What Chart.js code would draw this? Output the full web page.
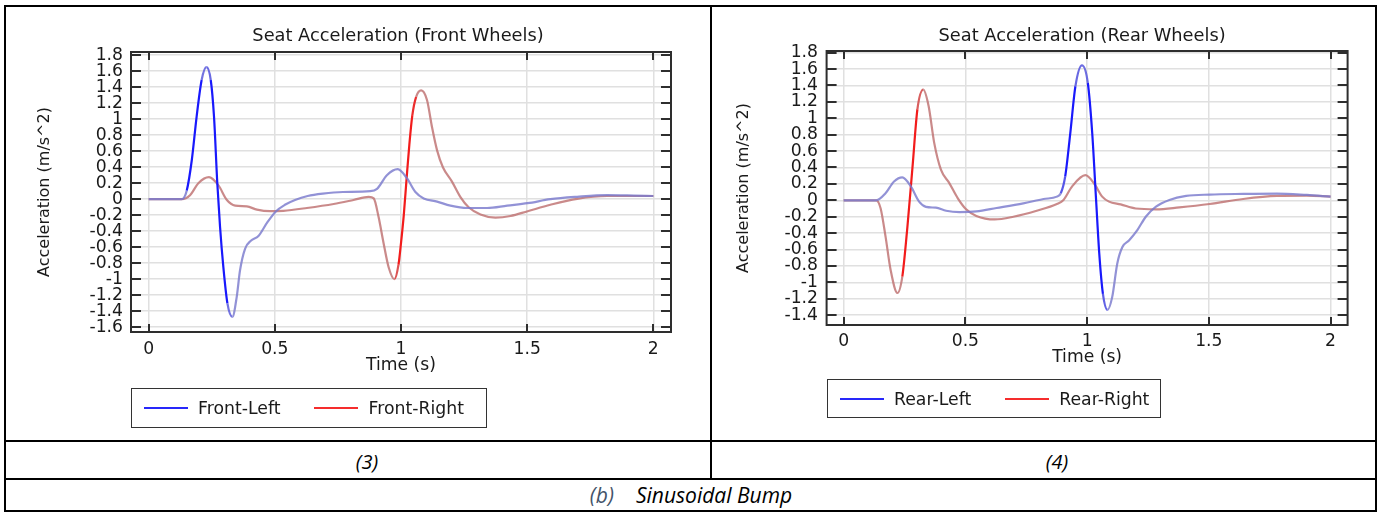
<!DOCTYPE html>
<html>
<head>
<meta charset="utf-8">
<script src="https://cdn.jsdelivr.net/npm/chart.js@4"></script>
<style>
body { margin:0; background:#fff; width:1381px; height:513px; position:relative; overflow:hidden; font-family:"DejaVu Sans", sans-serif; }
.rule { position:absolute; background:#000; }
canvas { position:absolute; top:0; }
.legend { position:absolute; border:1.5px solid #333; box-sizing:border-box; display:flex; align-items:center; padding-left:12px; font-size:17.3px; color:#1a1a1a; white-space:nowrap; }
.legend .item { display:flex; align-items:center; margin-right:34px; flex-shrink:0; }
.legend .key { display:inline-block; width:44px; height:0; border-top:2px solid; margin-right:10px; }
.caption { position:absolute; font-family:"Open Sans", sans-serif; font-style:italic; font-size:20px; line-height:24px; transform:translateX(-50%); white-space:nowrap; color:#000; }
</style>
</head>
<body>
<canvas id="frontChart" width="710" height="440" style="left:0"></canvas>
<canvas id="rearChart" width="671" height="440" style="left:710px"></canvas>
<div id="frontLegend" class="legend" style="left:131px; top:388px; width:356px; height:40px"></div>
<div id="rearLegend" class="legend" style="left:827px; top:379px; width:334px; height:39px"></div>

<!-- table rules -->
<div class="rule" style="left:4px; top:5px; width:1373px; height:2px"></div>
<div class="rule" style="left:4px; top:440px; width:1373px; height:2px"></div>
<div class="rule" style="left:4px; top:478px; width:1373px; height:2px"></div>
<div class="rule" style="left:4px; top:510px; width:1373px; height:2px"></div>
<div class="rule" style="left:4px; top:5px; width:2px; height:507px"></div>
<div class="rule" style="left:1375px; top:5px; width:2px; height:507px"></div>
<div class="rule" style="left:710px; top:5px; width:2px; height:474px"></div>

<div class="caption" style="left:367px; top:450px">(3)</div>
<div class="caption" style="left:1057px; top:450px">(4)</div>
<div class="caption" style="left:691px; top:483px; font-size:21px"><span style="color:#44546a">(b)</span><span style="margin-left:22px">Sinusoidal Bump</span></div>

<script>
// Front wheels, time (s) and seat acceleration (m/s^2)
var timeFL = [0, 0.05, 0.10, 0.131, 0.151, 0.171, 0.19, 0.21, 0.229, 0.246, 0.259, 0.272, 0.283, 0.296, 0.312, 0.332, 0.349, 0.362, 0.382, 0.405, 0.435, 0.47, 0.505, 0.54, 0.58, 0.63, 0.69, 0.77, 0.878, 0.905, 0.944, 0.987, 1.024, 1.057, 1.09, 1.143, 1.196, 1.262, 1.341, 1.421, 1.502, 1.592, 1.698, 1.817, 1.923, 2.0];
var accFL  = [0, 0, 0, 0, 0.11, 0.49, 1.03, 1.49, 1.65, 1.49, 1.03, 0.2, -0.35, -0.85, -1.30, -1.47, -1.22, -0.89, -0.62, -0.52, -0.46, -0.29, -0.15, -0.07, -0.01, 0.04, 0.07, 0.09, 0.10, 0.13, 0.30, 0.375, 0.26, 0.09, 0.01, -0.03, -0.08, -0.11, -0.11, -0.08, -0.05, 0.0, 0.03, 0.05, 0.045, 0.04];

var timeFR = [0, 0.05, 0.10, 0.131, 0.164, 0.197, 0.239, 0.276, 0.31, 0.343, 0.389, 0.429, 0.481, 0.534, 0.627, 0.733, 0.812, 0.872, 0.892, 0.911, 0.931, 0.951, 0.974, 0.99, 1.0, 1.011, 1.022, 1.033, 1.045, 1.06, 1.08, 1.103, 1.123, 1.143, 1.166, 1.202, 1.235, 1.268, 1.315, 1.374, 1.434, 1.502, 1.592, 1.698, 1.817, 1.923, 2.0];
var accFR  = [0, 0, 0, 0, 0.05, 0.2, 0.275, 0.175, -0.01, -0.08, -0.09, -0.13, -0.15, -0.145, -0.11, -0.06, -0.01, 0.03, 0.01, -0.22, -0.55, -0.85, -1.0, -0.82, -0.55, -0.2, 0.25, 0.68, 1.05, 1.28, 1.36, 1.24, 0.90, 0.61, 0.40, 0.22, 0.03, -0.10, -0.19, -0.23, -0.21, -0.15, -0.07, 0.005, 0.04, 0.04, 0.04];

// Rear wheels
var timeRL = [0, 0.05, 0.10, 0.134, 0.172, 0.207, 0.241, 0.276, 0.31, 0.338, 0.379, 0.421, 0.476, 0.545, 0.628, 0.738, 0.821, 0.876, 0.892, 0.91, 0.931, 0.952, 0.979, 1.003, 1.021, 1.037, 1.05, 1.065, 1.084, 1.103, 1.124, 1.145, 1.172, 1.207, 1.241, 1.283, 1.338, 1.407, 1.503, 1.641, 1.779, 1.903, 2.0];
var accRL  = [0, 0, 0, 0, 0.086, 0.23, 0.28, 0.17, -0.016, -0.08, -0.09, -0.127, -0.143, -0.135, -0.094, -0.037, 0.016, 0.045, 0.086, 0.29, 0.82, 1.39, 1.645, 1.43, 0.82, 0.0, -0.65, -1.14, -1.335, -1.18, -0.77, -0.57, -0.49, -0.36, -0.2, -0.078, 0.004, 0.053, 0.07, 0.078, 0.082, 0.065, 0.045];

var timeRR = [0, 0.05, 0.10, 0.134, 0.152, 0.172, 0.193, 0.221, 0.241, 0.262, 0.283, 0.303, 0.327, 0.349, 0.372, 0.4, 0.434, 0.469, 0.503, 0.545, 0.621, 0.697, 0.793, 0.876, 0.903, 0.938, 0.993, 1.028, 1.062, 1.09, 1.138, 1.2, 1.283, 1.379, 1.503, 1.641, 1.779, 1.903, 2.0];
var accRR  = [0, 0, 0, 0, -0.1, -0.44, -0.85, -1.13, -0.93, -0.32, 0.41, 1.11, 1.35, 1.15, 0.70, 0.37, 0.21, 0.024, -0.11, -0.19, -0.233, -0.2, -0.127, -0.045, 0.004, 0.167, 0.306, 0.208, 0.045, -0.016, -0.05, -0.1, -0.11, -0.086, -0.045, 0.016, 0.053, 0.057, 0.045];

var xTicks = [0, 0.5, 1, 1.5, 2];
var yTicksFront = [-1.6, -1.4, -1.2, -1, -0.8, -0.6, -0.4, -0.2, 0, 0.2, 0.4, 0.6, 0.8, 1, 1.2, 1.4, 1.6, 1.8];
var yTicksRear  = [-1.4, -1.2, -1, -0.8, -0.6, -0.4, -0.2, 0, 0.2, 0.4, 0.6, 0.8, 1, 1.2, 1.4, 1.6, 1.8];

var blueFaded = [122, 122, 205], blueBright = [25, 25, 252];
var redFaded = [190, 112, 112], redBright = [242, 28, 28];

function pairs(ts, vs) {
    return ts.map(function(t, i) { return {x: t, y: vs[i]}; });
}

// the steep part of each bump response is drawn saturated, the rest washed out
function slopeColour(faded, bright, win) {
    return function(c) {
        var x0 = c.p0.parsed.x, x1 = c.p1.parsed.x;
        var mid = (x0 + x1) / 2;
        var w = 0;
        if (mid >= win[0] && mid <= win[1]) {
            var s = Math.abs((c.p1.parsed.y - c.p0.parsed.y) / (x1 - x0));
            w = Math.min(1, Math.max(0, (s - 5) / 12));
        }
        var m = faded.map(function(f, i) { return Math.round(f + (bright[i] - f) * w); });
        return 'rgba(' + m.join(',') + ',' + (0.82 + 0.18 * w) + ')';
    };
}

var frame = {
    id: 'frame',
    afterDraw: function(chart, args, opts) {
        var ctx = chart.ctx, a = chart.chartArea, x = chart.scales.x, y = chart.scales.y;
        ctx.save();
        ctx.strokeStyle = '#2e2e2e';
        ctx.lineWidth = 2;
        ctx.beginPath();
        y.ticks.forEach(function(t) {
            var p = Math.round(y.getPixelForValue(t.value));
            ctx.moveTo(a.left, p); ctx.lineTo(a.left + 10, p);
            ctx.moveTo(a.right, p); ctx.lineTo(a.right - 10, p);
        });
        x.ticks.forEach(function(t) {
            var p = Math.round(x.getPixelForValue(t.value));
            ctx.moveTo(p, a.top); ctx.lineTo(p, a.top + 8);
            ctx.moveTo(p, a.bottom); ctx.lineTo(p, a.bottom - 8);
        });
        ctx.stroke();
        ctx.strokeRect(a.left, a.top, a.right - a.left, a.bottom - a.top);
        ctx.fillStyle = '#1a1a1a';
        ctx.font = '17.8px "DejaVu Sans"';
        ctx.textAlign = 'center';
        ctx.textBaseline = 'middle';
        ctx.fillText(opts.text, (a.left + a.right) / 2 + opts.dx, opts.y);
        ctx.restore();
    }
};

function makeChart(id, g) {
    var tickFont = {family: 'DejaVu Sans', size: 17.2};
    return new Chart(document.getElementById(id), {
        type: 'line',
        data: {
            datasets: [
                {label: g.labels[0], data: pairs(g.t1, g.v1), legendColor: 'rgb(40,40,250)',
                 segment: {borderColor: slopeColour(blueFaded, blueBright, g.win1)}},
                {label: g.labels[1], data: pairs(g.t2, g.v2), legendColor: 'rgb(245,45,45)',
                 segment: {borderColor: slopeColour(redFaded, redBright, g.win2)}}
            ]
        },
        options: {
            responsive: false,
            animation: false,
            layout: {padding: g.pad},
            elements: {
                line: {borderWidth: 2.2, cubicInterpolationMode: 'monotone'},
                point: {radius: 0}
            },
            plugins: {
                legend: {display: false},
                tooltip: {enabled: false},
                frame: {text: g.title, y: 36.5, dx: g.titleDx}
            },
            scales: {
                x: {
                    type: 'linear', min: -0.07, max: 2.07,
                    afterFit: function(s) { s.height = 50; },
                    afterBuildTicks: function(s) { s.ticks = xTicks.map(function(v) { return {value: v}; }); },
                    grid: {color: '#e0e0e0', lineWidth: 1.5, drawTicks: false},
                    border: {display: false},
                    ticks: {font: tickFont, color: '#1a1a1a', padding: g.xTickPad, maxRotation: 0,
                            callback: function(v) { return String(+v.toFixed(1)); }},
                    title: {display: true, text: 'Time (s)', font: tickFont, color: '#1a1a1a',
                            padding: {top: 0, bottom: g.xTitlePad}}
                },
                y: {
                    min: g.yMin, max: g.yMax,
                    afterFit: function(s) { s.width = g.yWidth; },
                    afterBuildTicks: function(s) { s.ticks = g.yTicks.map(function(v) { return {value: v}; }); },
                    grid: {color: '#e0e0e0', lineWidth: 1.5, drawTicks: false},
                    border: {display: false},
                    ticks: {font: tickFont, color: '#1a1a1a', padding: g.yTickPad, autoSkip: false,
                            callback: function(v) { return String(+v.toFixed(1)); }},
                    title: {display: true, text: 'Acceleration (m/s^2)', font: {family: 'DejaVu Sans', size: 16},
                            color: '#1a1a1a', padding: {top: g.yTitlePad, bottom: 0}}
                }
            }
        },
        plugins: [frame]
    });
}

function htmlLegend(chart, boxId) {
    var box = document.getElementById(boxId);
    chart.data.datasets.forEach(function(ds) {
        var item = document.createElement('div');
        item.className = 'item';
        var key = document.createElement('span');
        key.className = 'key';
        key.style.borderTopColor = ds.legendColor;
        var txt = document.createElement('span');
        txt.textContent = ds.label;
        item.appendChild(key);
        item.appendChild(txt);
        box.appendChild(item);
    });
}

var front = makeChart('frontChart', {
    labels: ['Front-Left', 'Front-Right'], title: 'Seat Acceleration (Front Wheels)', titleDx: -3,
    t1: timeFL, v1: accFL, t2: timeFR, v2: accFR,
    win1: [0.14, 0.335], win2: [0.97, 1.07],
    yMin: -1.66, yMax: 1.84, yTicks: yTicksFront,
    pad: {left: 0, right: 39, top: 52, bottom: 58},
    yWidth: 131, yTitlePad: 35.4, xTitlePad: 6.4, xTickPad: 7.4, yTickPad: 8
});
var rear = makeChart('rearChart', {
    labels: ['Rear-Left', 'Rear-Right'], title: 'Seat Acceleration (Rear Wheels)', titleDx: -5,
    t1: timeRL, v1: accRL, t2: timeRR, v2: accRR,
    win1: [0.89, 1.09], win2: [0.235, 0.32],
    yMin: -1.52, yMax: 1.82, yTicks: yTicksRear,
    pad: {left: 0, right: 33.4, top: 51, bottom: 65},
    yWidth: 116.6, yTitlePad: 24.1, xTitlePad: 7.4, xTickPad: 6.1, yTickPad: 8.6
});
htmlLegend(front, 'frontLegend');
htmlLegend(rear, 'rearLegend');
</script>
</body>
</html>
